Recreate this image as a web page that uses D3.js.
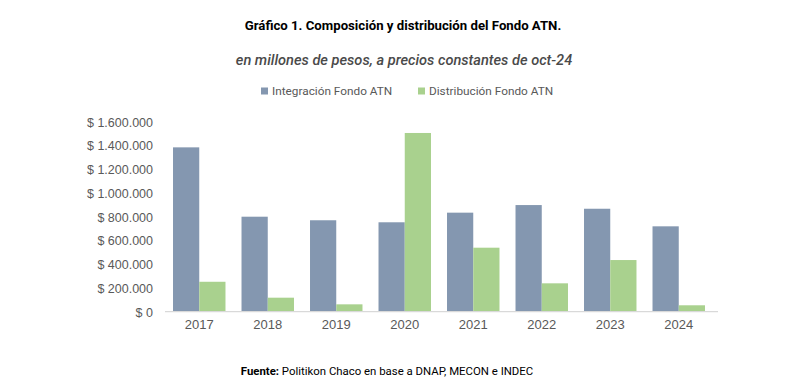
<!DOCTYPE html>
<html>
<head>
<meta charset="utf-8">
<script src="https://cdn.jsdelivr.net/npm/d3@7"></script>
<style>
  body { margin: 0; background: #fff; }
  svg { font-family: Roboto, "Liberation Sans", sans-serif; }
</style>
</head>
<body>
<div id="vis"></div>
<script>
// ----- DATA ----- //
const years = ["2017", "2018", "2019", "2020", "2021", "2022", "2023", "2024"];
const integracion = [1384000, 800000, 770000, 753000, 834000, 898000, 867000, 719000];
const distribucion = [252000, 118000, 62000, 1505000, 539000, 239000, 435000, 54000];
const seriesNames = ["Integración Fondo ATN", "Distribución Fondo ATN"];
const yTicks = [0, 200000, 400000, 600000, 800000, 1000000, 1200000, 1400000, 1600000];

const colors = ["#8497B0", "#A9D18E"];
const textGray = "#595959";

let width = 800, height = 389;

const svg = d3.select("#vis")
  .append("svg")
  .attr("width", width)
  .attr("height", height);

// ----- SCALES ----- //
let x = d3.scaleBand()
  .domain(years)
  .range([165, 713])
  .paddingInner(0.234)
  .paddingOuter(0.117);

let x1 = d3.scaleBand()
  .domain([0, 1])
  .range([0, x.bandwidth()]);

let y = d3.scaleLinear()
  .domain([0, 1600000])
  .range([311.7, 121.7]);

const fmt = (v) => "$ " + d3.format(",")(v).replace(/,/g, ".");

// ----- Y AXIS (labels only) ----- //
let yAxis = d3.axisLeft(y).tickValues(yTicks).tickFormat(fmt).tickSize(0).tickPadding(0);
let yAxisGroup = svg.append("g")
  .attr("transform", "translate(153,0)")
  .call(yAxis);
yAxisGroup.select(".domain").remove();
yAxisGroup.selectAll("text")
  .attr("fill", textGray)
  .style("font-size", "12.5px")
  .attr("dy", "0.35em");

// ----- BARS ----- //
let groups = svg.selectAll("g.year")
  .data(years)
  .join("g")
  .attr("class", "year")
  .attr("transform", (d) => `translate(${x(d)},0)`);

groups.selectAll("rect")
  .data((d, i) => [integracion[i], distribucion[i]])
  .join("rect")
  .attr("x", (d, j) => x1(j))
  .attr("width", x1.bandwidth())
  .attr("y", (d) => y(d))
  .attr("height", (d) => y(0) - y(d))
  .attr("fill", (d, j) => colors[j]);

// ----- X AXIS ----- //
let xAxis = d3.axisBottom(x).tickSize(0).tickPadding(8);
let xAxisGroup = svg.append("g")
  .attr("transform", `translate(0,${y(0)})`)
  .call(xAxis);
xAxisGroup.select(".domain")
  .attr("stroke", "#D9D9D9")
  .attr("stroke-width", 1.3)
  .attr("d", "M165,0H718");
xAxisGroup.selectAll("text")
  .attr("fill", textGray)
  .style("font-size", "13px");

// ----- TITLES ----- //
svg.append("text")
  .attr("x", 403)
  .attr("y", 30)
  .attr("text-anchor", "middle")
  .attr("fill", "#000")
  .style("font-weight", "bold")
  .style("font-size", "13.2px")
  .text("Gráfico 1. Composición y distribución del Fondo ATN.");

svg.append("text")
  .attr("x", 404)
  .attr("y", 65)
  .attr("text-anchor", "middle")
  .attr("fill", "#4a4a4a")
  .style("font-style", "italic")
  .style("font-weight", "500")
  .style("font-size", "14.6px")
  .text("en millones de pesos, a precios constantes de oct-24");

// ----- LEGEND ----- //
const legendX = [261, 418];
let legend = svg.selectAll("g.legend")
  .data(seriesNames)
  .join("g")
  .attr("class", "legend")
  .attr("transform", (d, i) => `translate(${legendX[i]},91)`);

legend.append("rect")
  .attr("x", 0)
  .attr("y", -3.5)
  .attr("width", 7)
  .attr("height", 7)
  .attr("fill", (d, i) => colors[i]);

legend.append("text")
  .attr("x", 11)
  .attr("y", 0)
  .attr("dy", "0.35em")
  .attr("fill", textGray)
  .style("font-size", "11.8px")
  .text((d) => d);

// ----- SOURCE ----- //
let src = svg.append("text")
  .attr("x", 387)
  .attr("y", 375)
  .attr("text-anchor", "middle")
  .attr("fill", "#000")
  .style("font-size", "11.4px");
src.append("tspan").style("font-weight", "bold").text("Fuente: ");
src.append("tspan").text("Politikon Chaco en base a DNAP, MECON e INDEC");
</script>
</body>
</html>
